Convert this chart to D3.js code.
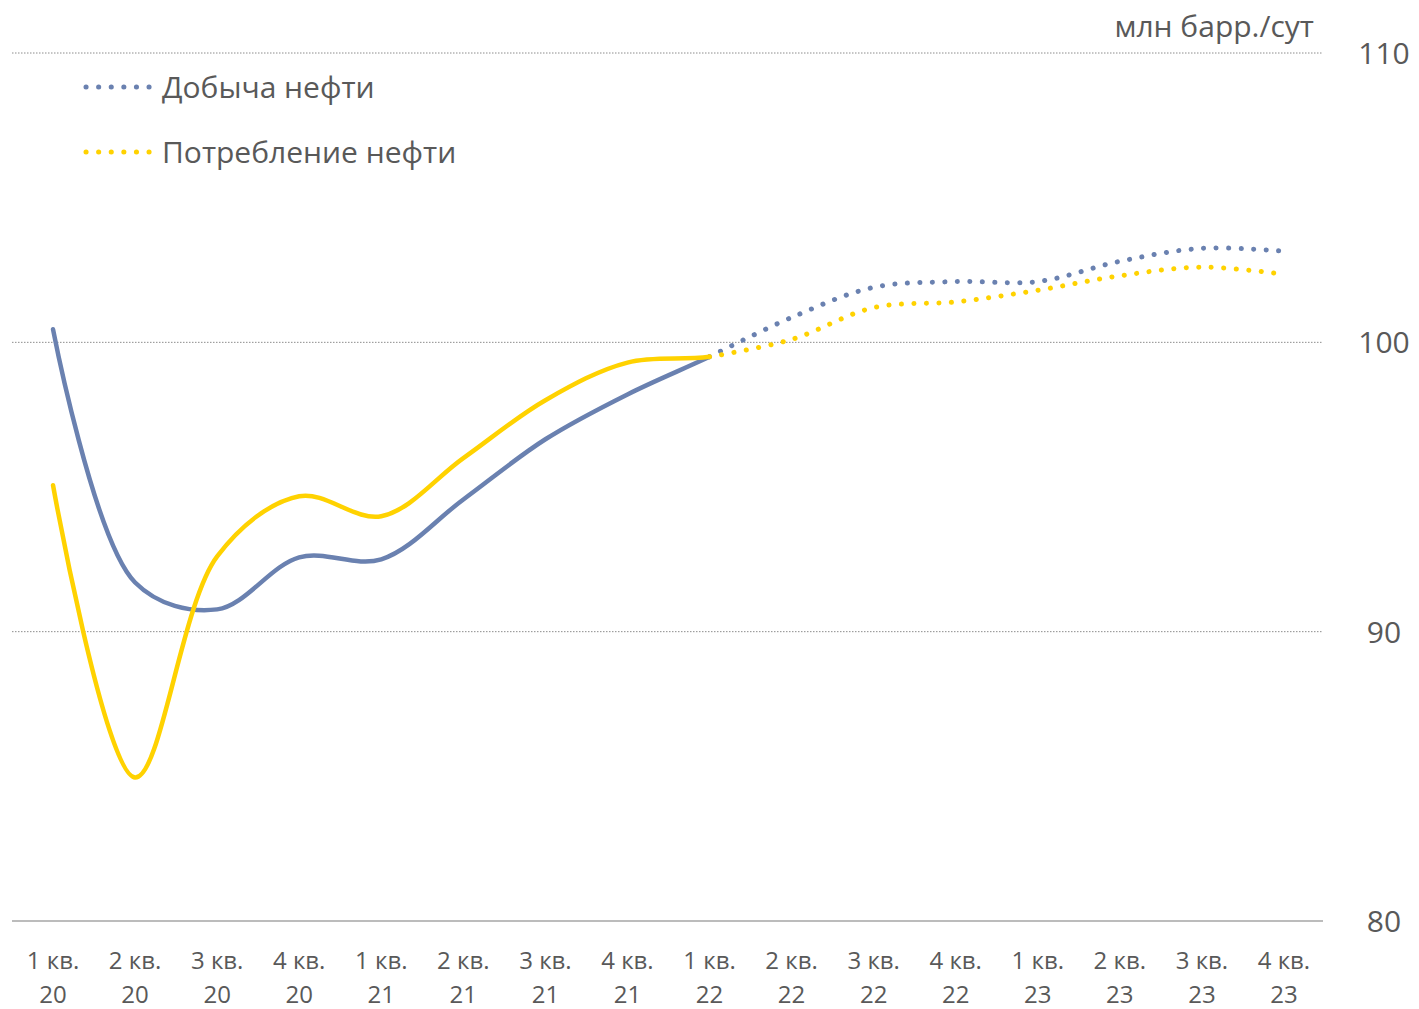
<!DOCTYPE html>
<html><head><meta charset="utf-8">
<script src="https://cdn.jsdelivr.net/npm/d3@7"></script>
<style>body{margin:0;background:#fff;}svg{display:block;font-family:"Open Sans","Noto Sans",sans-serif;}</style>
</head><body><svg id="c" width="1419" height="1009"></svg>
<script>
const quarters = ["1 кв.","2 кв.","3 кв.","4 кв.","1 кв.","2 кв.","3 кв.","4 кв.","1 кв.","2 кв.","3 кв.","4 кв.","1 кв.","2 кв.","3 кв.","4 кв."];
const years = ["20","20","20","20","21","21","21","21","22","22","22","22","23","23","23","23"];
const production = [100.45,91.7,90.77,92.57,92.5,94.57,96.65,98.2,99.5,100.86,101.9,102.1,102.1,102.8,103.25,103.15];
const consumption = [95.06,84.96,92.6,94.68,93.99,96.0,98.0,99.3,99.5,100.1,101.2,101.4,101.8,102.3,102.6,102.35];
const yTicks = [80,90,100,110];
const seriesNames = ["Добыча нефти","Потребление нефти"];
const forecastStart = 8;
const unitLabel = "млн барр./сут";

(function(){
const colors = ["#6A81B0","#FFD200"];
const svg = d3.select("#c");
const L = 12, R = 1325, T = 53, B = 921;
const idx = d3.range(quarters.length);
const x = d3.scaleBand().domain(idx).range([L, R]);
const y = d3.scaleLinear().domain([80,110]).range([B, T]);
const cx = i => x(i) + x.bandwidth()/2;

svg.append("g").selectAll("line").data(yTicks.filter(t => t !== 80)).join("line")
  .attr("x1", L).attr("x2", 1323).attr("y1", d => y(d)).attr("y2", d => y(d))
  .attr("stroke", "#8c8c8c").attr("stroke-width", 1).attr("stroke-dasharray", "1.5 1.5");
svg.append("line").attr("x1", L).attr("x2", 1323).attr("y1", y(80)).attr("y2", y(80))
  .attr("stroke", "#a6a6a6").attr("stroke-width", 1.5);

const yAxis = d3.axisRight(y).tickValues(yTicks).tickSize(0).tickPadding(0);
const ga = svg.append("g").attr("transform", `translate(1384,0)`).call(yAxis);
ga.select(".domain").remove();
ga.selectAll("text").attr("text-anchor","middle").attr("font-size", 30).attr("fill","#595959")
  .attr("font-family", '"Open Sans","Noto Sans",sans-serif').attr("dy","0.35em");

const gx = svg.append("g");
idx.forEach(i => {
  const t = gx.append("text").attr("x", cx(i)).attr("text-anchor","middle")
    .attr("font-size", 24).attr("fill","#595959");
  t.append("tspan").attr("x", cx(i)).attr("y", 969).text(quarters[i]);
  t.append("tspan").attr("x", cx(i)).attr("y", 1003).text(years[i]);
});

svg.append("text").attr("x", 1314).attr("y", 37).attr("text-anchor","end")
  .attr("font-size", 30).attr("fill","#595959").text(unitLabel);

const line = d3.line().x(d => cx(d.i)).y(d => y(d.v)).curve(d3.curveCatmullRom.alpha(0.5));
const defs = svg.append("defs");
const xSplit = cx(forecastStart);
defs.append("clipPath").attr("id", "clipS").append("rect").attr("x",0).attr("y",0).attr("width", xSplit).attr("height", 1009);
[production, consumption].forEach((arr, s) => {
  const pts = arr.map((v,i) => ({i, v}));
  svg.append("path").attr("d", line(pts.slice(0, forecastStart + 2))).attr("fill","none").attr("stroke", colors[s])
    .attr("stroke-width", 4.5).attr("stroke-linecap","round").attr("clip-path", "url(#clipS)");
  svg.append("path").attr("d", line(pts.slice(forecastStart))).attr("fill","none").attr("stroke", colors[s])
    .attr("stroke-width", 5).attr("stroke-linecap","round").attr("stroke-dasharray","0.1 12.4");
});

seriesNames.forEach((n, s) => {
  const ly = [87,152][s];
  svg.append("line").attr("x1", 86).attr("x2", 152).attr("y1", ly).attr("y2", ly)
    .attr("stroke", colors[s]).attr("stroke-width", 5).attr("stroke-linecap","round")
    .attr("stroke-dasharray","0.1 12.5");
  svg.append("text").attr("x", 162).attr("y", ly).attr("dy","0.35em")
    .attr("font-size", 30).attr("fill","#595959").text(n);
});
})();
</script></body></html>
